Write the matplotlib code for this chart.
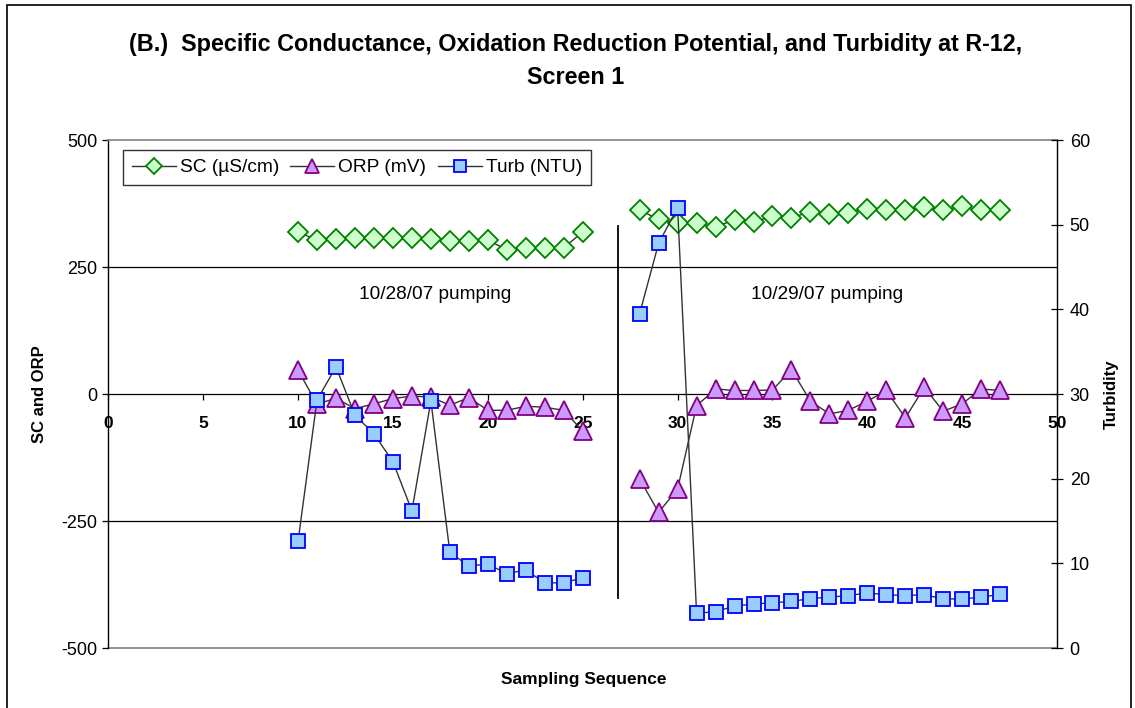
import matplotlib
matplotlib.use('Agg')
import matplotlib.pyplot as plt
import numpy as np
from matplotlib.lines import Line2D
from matplotlib.patches import Rectangle

plt.rcParams['font.family'] = ['Liberation Sans', 'DejaVu Sans']
plt.rcParams['axes.unicode_minus'] = False

# sampling sequence, two pumping days
seq_day1 = list(range(10, 26))
seq_day2 = list(range(28, 48))

# specific conductance (uS/cm)
sc_day1 = [319, 303, 305, 308, 308, 308, 308, 306, 301, 301, 303, 284, 288, 288, 288, 319]
sc_day2 = [362, 344, 336, 336, 329, 343, 339, 350, 347, 359, 354, 357, 365, 362, 362,
           368, 362, 370, 362, 362]

# oxidation reduction potential (mV)
orp_day1 = [47, -20, -8, -29, -19, -9, -4, -6, -22, -7, -32, -32, -24, -26, -32, -73]
orp_day2 = [-167, -233, -187, -23, 10, 7, 7, 8, 48, -14, -39, -32, -14, 7, -47,
            13, -34, -19, 10, 7]

# turbidity (NTU)
turb_day1 = [12.6, 29.3, 33.2, 27.5, 25.3, 22.0, 16.2, 29.2, 11.3, 9.7, 9.9, 8.8, 9.2, 7.7, 7.7, 8.3]
turb_day2 = [39.5, 47.8, 52.0, 4.1, 4.3, 4.95, 5.2, 5.35, 5.5, 5.85, 6.0, 6.2, 6.5, 6.3,
             6.2, 6.3, 5.8, 5.8, 6.0, 6.35]

day_labels = ['10/28/07 pumping', '10/29/07 pumping']


def join(a, b):
    # NaN between days so the line breaks
    return np.array(list(a) + [np.nan] + list(b), dtype=float)


x = join(seq_day1, seq_day2)
sc = join(sc_day1, sc_day2)
orp = join(orp_day1, orp_day2)
turb = join(turb_day1, turb_day2)

LINE = '#333333'

fig = plt.figure(figsize=(11.35, 7.08), dpi=100)
ax = fig.add_axes([0.0954, 0.0847, 0.836, 0.7175])
ax2 = ax.twinx()

ax.plot(x, sc, color=LINE, lw=1.0, marker='D', ms=10, mfc='#ccffcc', mec='#008000',
        mew=1.3, zorder=3)
ax.plot(x, orp, color=LINE, lw=1.0, marker='^', ms=13.5, mfc='#cc99ff', mec='#800080',
        mew=1.3, zorder=3)
ax2.plot(x, turb, color=LINE, lw=1.0, marker='s', ms=9.5, mfc='#99ccff', mec='#0000ff',
         mew=1.3, zorder=3)

ax.set_xlim(0, 50)
ax.set_ylim(-500, 500)
ax2.set_ylim(0, 60)
ax.set_xticks(range(0, 51, 5))
ax.set_yticks([-500, -250, 0, 250, 500])
ax2.set_yticks(range(0, 61, 10))

# gridlines at +/-250
for yv in (250, -250):
    ax.axhline(yv, color='black', lw=0.9, zorder=1)
ax.axhline(-500, color='#808080', lw=1.2, zorder=1, clip_on=False)

# x axis crosses at 0
ax.spines['bottom'].set_position(('data', 0))
ax.spines['bottom'].set_linewidth(0.9)
ax.spines['top'].set_color('#808080')
ax.spines['top'].set_linewidth(1.2)
ax.spines['left'].set_linewidth(1.0)
ax.spines['right'].set_visible(False)
for s in ('top', 'bottom', 'left'):
    ax2.spines[s].set_visible(False)
ax2.spines['right'].set_linewidth(1.0)

ax.tick_params(axis='x', direction='out', length=4, width=0.9, pad=12, labelsize=12.5)
for lab in ax.get_xticklabels():
    lab.set_fontweight('bold')
ax.tick_params(axis='y', direction='out', length=4, width=0.9, pad=4, labelsize=13)
ax2.tick_params(axis='y', direction='inout', length=8, width=0.9, pad=5, labelsize=13)

ax.set_ylabel('SC and ORP', fontsize=12, fontweight='bold', labelpad=10)
ax2.set_ylabel('Turbidity', fontsize=12, fontweight='bold', labelpad=10)
fig.text(0.514, 0.04, 'Sampling Sequence', fontsize=12.5, fontweight='bold', ha='center', va='center')

fig.text(0.507, 0.9135, '(B.)  Specific Conductance, Oxidation Reduction Potential, and Turbidity at R-12,\nScreen 1',
         fontsize=16.8, fontweight='bold', ha='center', va='center', linespacing=1.55)

# separator between pumping days
ax.plot([26.85, 26.85], [331, -402], color='black', lw=1.3, zorder=2)
ax.text(17.2, 195, day_labels[0], fontsize=13.7, ha='center', va='center')
ax.text(37.9, 195, day_labels[1], fontsize=13.7, ha='center', va='center')

handles = [
    Line2D([], [], color=LINE, lw=1.0, marker='D', ms=8, mfc='#ccffcc', mec='#008000', mew=1.3),
    Line2D([], [], color=LINE, lw=1.0, marker='^', ms=10, mfc='#cc99ff', mec='#800080', mew=1.3),
    Line2D([], [], color=LINE, lw=1.0, marker='s', ms=8, mfc='#99ccff', mec='#0000ff', mew=1.3),
]
leg = ax.legend(handles, ['SC (µS/cm)', 'ORP (mV)', 'Turb (NTU)'], ncol=3,
                loc='upper left', bbox_to_anchor=(0.0155, 0.98), borderaxespad=0,
                fontsize=13.8, frameon=True, fancybox=False, handlelength=2.3,
                handletextpad=0.2, columnspacing=0.6, borderpad=0.45)
leg.get_frame().set_edgecolor('black')
leg.get_frame().set_linewidth(1.0)
leg.set_zorder(5)

# chart border
fig.patches.append(Rectangle((7 / 1135, -0.01), 1124 / 1135, 1 - 5 / 708 + 0.01,
                             transform=fig.transFigure, fill=False, ec='black', lw=1.2))

fig.savefig('out.png', dpi=100)
